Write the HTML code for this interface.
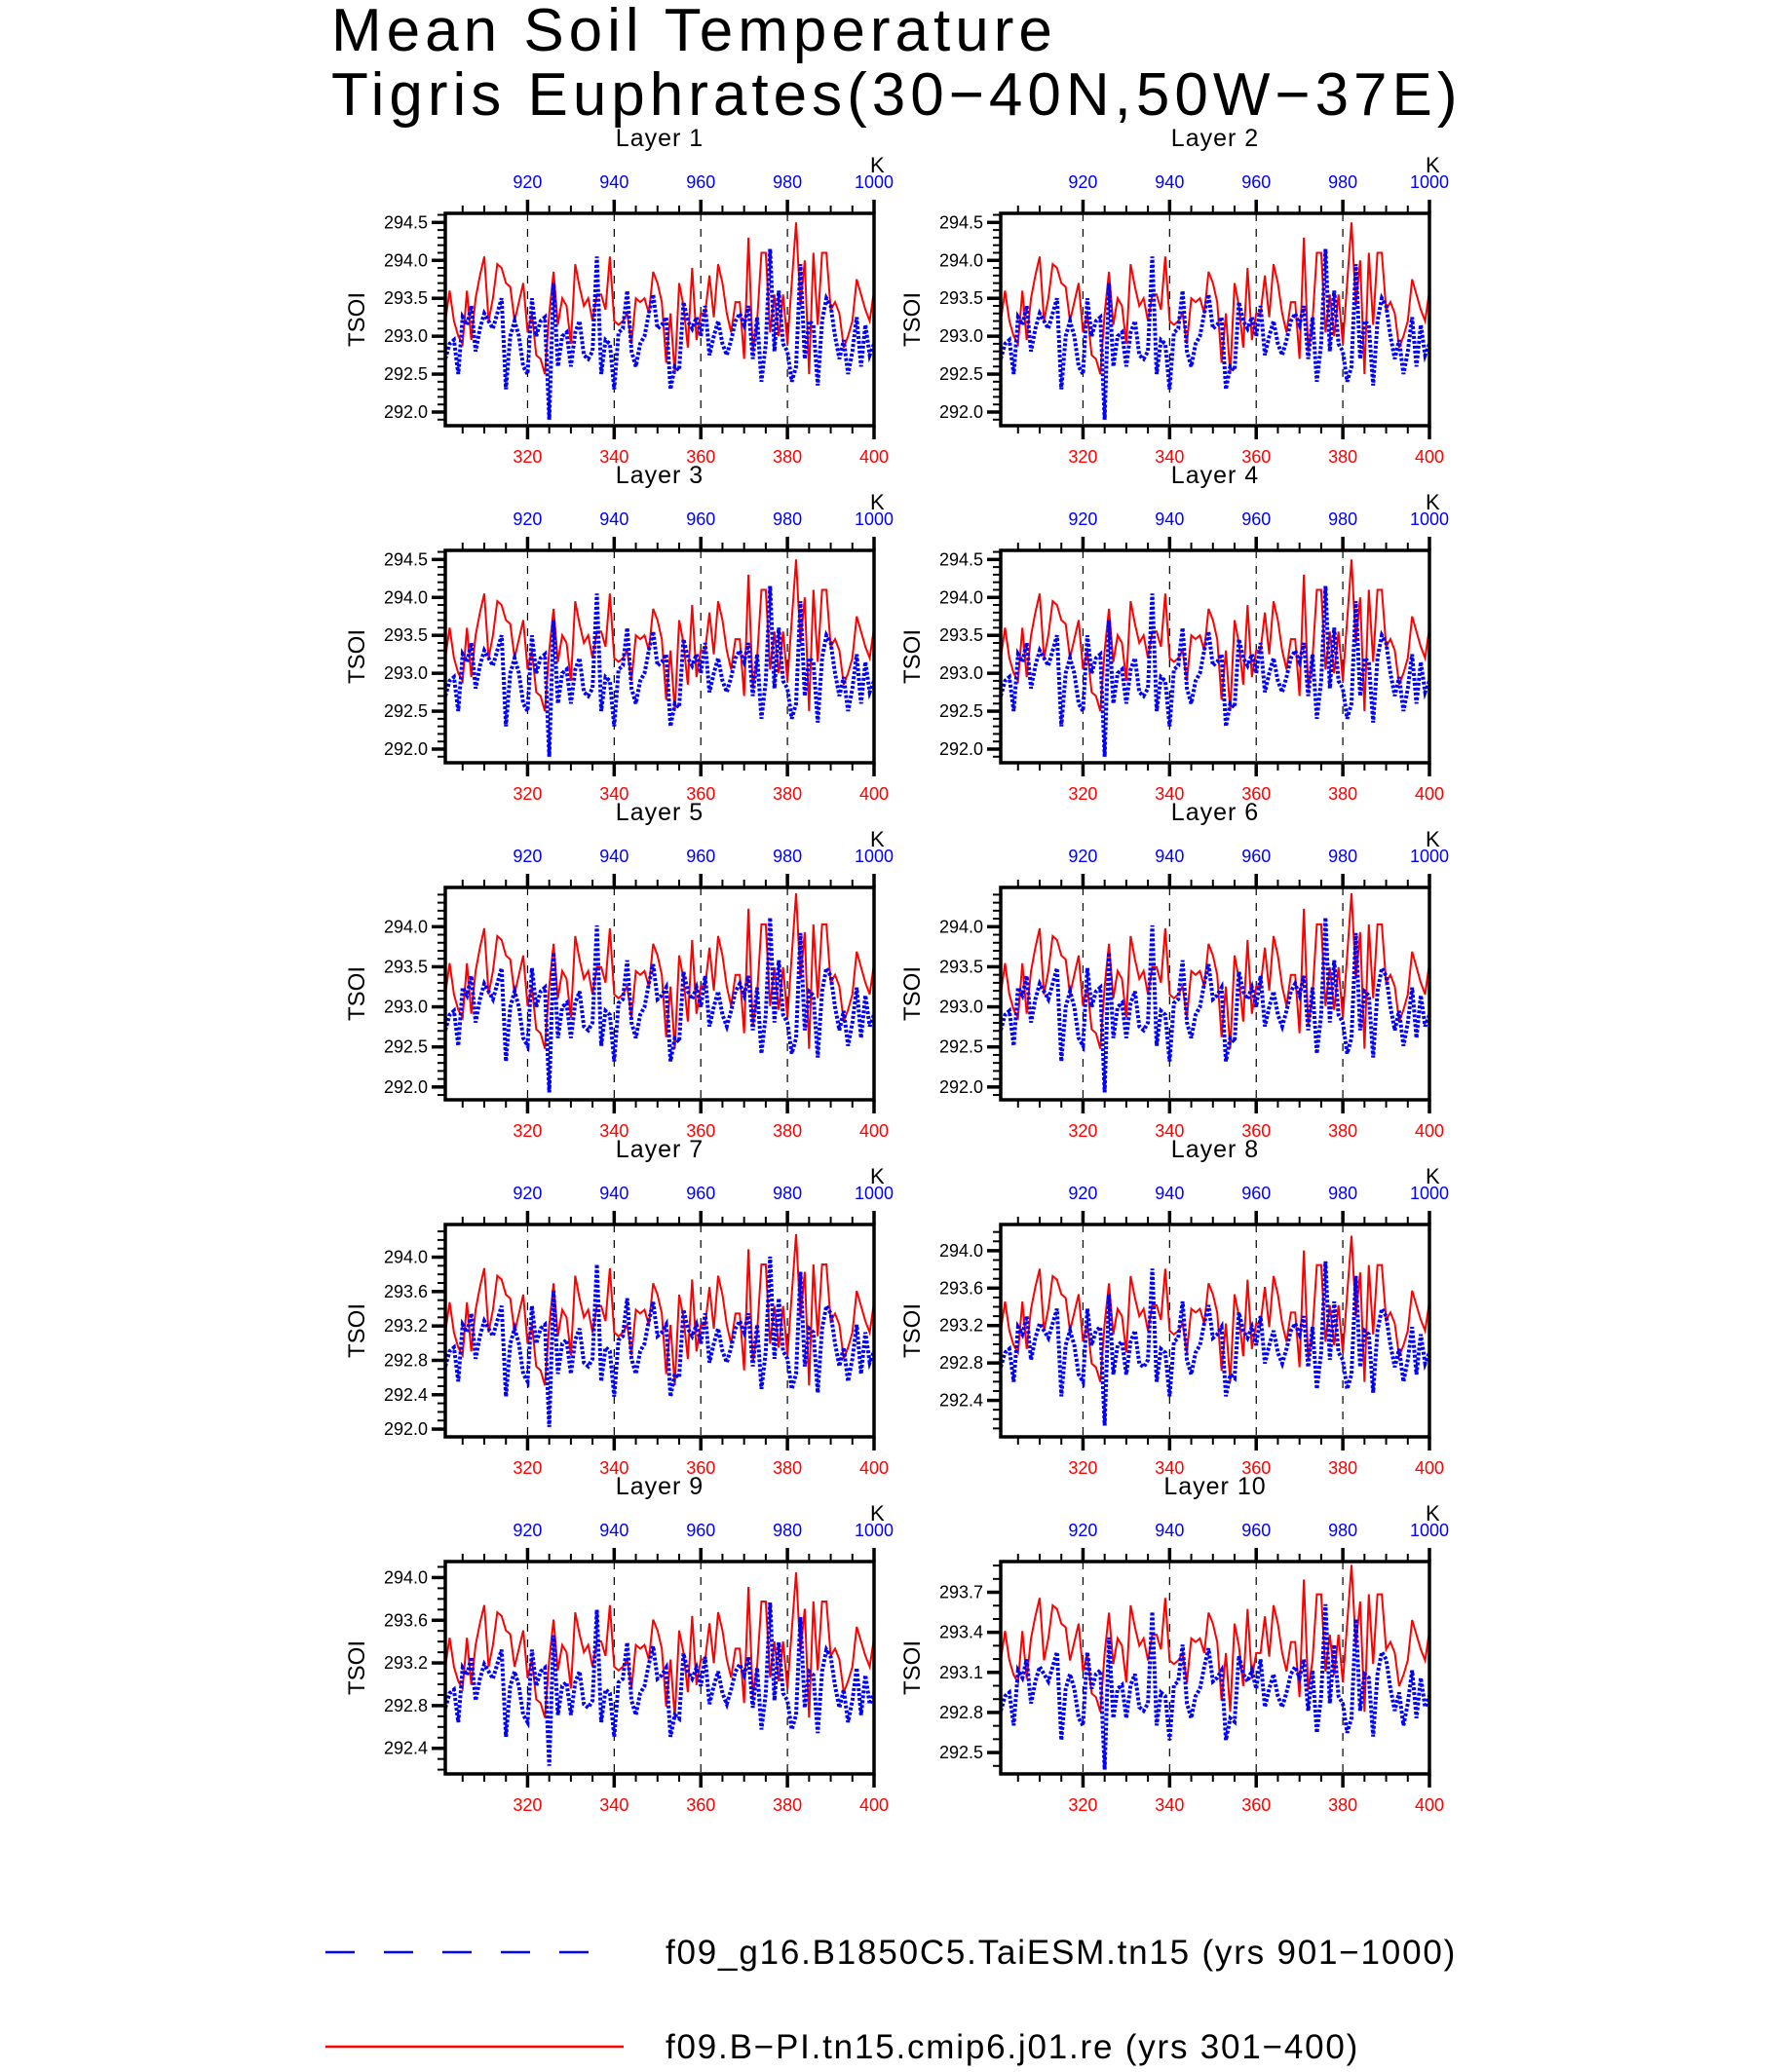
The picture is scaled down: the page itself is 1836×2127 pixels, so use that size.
<!DOCTYPE html>
<html><head><meta charset="utf-8"><style>
body{margin:0;background:#fff;}
svg text{font-family:"Liberation Sans",sans-serif;}
</style></head><body>
<svg id="chart" width="1836" height="2122" viewBox="0 0 1836 2122" xmlns="http://www.w3.org/2000/svg">
<text x="340" y="52" font-size="62" font-weight="300" fill="#000" letter-spacing="5">Mean Soil Temperature</text>
<text x="340" y="118" font-size="62" font-weight="300" fill="#000" letter-spacing="5">Tigris Euphrates(30−40N,50W−37E)</text>
<g id="panels"></g>
<line x1="334" y1="2004" x2="625" y2="2004" stroke="#0000ff" stroke-width="2.5" stroke-dasharray="30,30"/>
<text x="683" y="2016" font-size="35" fill="#000" letter-spacing="1.8">f09_g16.B1850C5.TaiESM.tn15 (yrs 901−1000)</text>
<line x1="334" y1="2101" x2="640" y2="2101" stroke="#ff0000" stroke-width="2.5"/>
<text x="683" y="2113" font-size="35" fill="#000" letter-spacing="1.8">f09.B−PI.tn15.cmip6.j01.re (yrs 301−400)</text>
</svg>
<script>
const redYears = []; for (let y = 301; y <= 400; y++) redYears.push(y);
const redValues = [293.2,293.6,293.2,293.0,292.9,293.6,292.95,293.5,293.8,294.05,293.2,293.5,293.95,293.9,293.7,293.65,293.2,293.45,293.7,293.05,
293.3,292.75,292.7,292.5,293.3,293.85,293.15,293.5,293.4,292.9,293.95,293.65,293.4,293.5,293.2,293.55,293.55,293.35,294.05,293.2,
293.15,293.2,293.3,292.9,293.5,293.45,293.5,293.3,293.85,293.7,293.45,292.65,293.3,292.5,293.7,293.4,292.85,293.9,292.95,293.3,
293.3,293.8,293.25,293.95,293.7,293.3,293.05,293.45,293.45,292.7,294.3,292.8,293.2,294.1,294.1,293.05,293.55,293.0,293.55,292.9,
293.7,294.5,293.4,294.0,292.5,294.1,293.15,294.1,294.1,293.35,293.45,293.3,292.85,293.0,293.2,293.75,293.55,293.35,293.2,293.6];
const blueValues = [292.7,292.9,292.95,292.5,293.25,293.15,293.4,292.8,293.1,293.3,293.2,293.1,293.3,293.5,292.3,293.0,293.2,293.0,292.6,292.5,
293.5,293.0,293.2,293.25,291.9,293.7,292.6,293.0,293.05,292.6,293.05,293.2,292.75,292.7,292.8,294.05,292.5,292.95,292.9,292.3,
293.05,293.1,293.6,292.8,292.6,292.9,293.0,293.3,293.55,293.1,293.15,293.25,292.3,292.6,292.55,293.45,293.2,293.1,293.25,293.0,
293.4,292.75,293.0,293.2,292.9,292.75,292.95,293.2,293.3,293.15,293.4,292.7,293.25,292.4,292.9,294.15,292.8,293.6,292.9,292.8,
292.4,292.6,293.95,292.7,293.2,293.15,292.35,293.2,293.5,293.4,293.0,292.7,292.95,292.5,292.8,293.25,292.6,293.15,292.75,292.9];
const layerNames = ["Layer  1","Layer  2","Layer  3","Layer  4","Layer  5","Layer  6","Layer  7","Layer  8","Layer  9","Layer  10"];
const layerAmplitude = [1,1,1,1,0.97,0.97,0.88,0.78,0.68,0.55];
const redLayerMean = [293.4,293.4,293.4,293.4,293.35,293.35,293.3,293.3,293.3,293.3];
const blueLayerMean = [292.95,292.95,292.95,292.95,292.95,292.95,292.95,292.95,292.95,292.95];
const yMin = [291.82,291.82,291.82,291.82,291.84,291.84,291.91,292.01,292.16,292.34];
const yMax = [294.62,294.62,294.62,294.62,294.49,294.49,294.38,294.28,294.15,293.93];
const yTicks = [
 [292.0,292.5,293.0,293.5,294.0,294.5],[292.0,292.5,293.0,293.5,294.0,294.5],
 [292.0,292.5,293.0,293.5,294.0,294.5],[292.0,292.5,293.0,293.5,294.0,294.5],
 [292.0,292.5,293.0,293.5,294.0],[292.0,292.5,293.0,293.5,294.0],
 [292.0,292.4,292.8,293.2,293.6,294.0],[292.4,292.8,293.2,293.6,294.0],
 [292.4,292.8,293.2,293.6,294.0],[292.5,292.8,293.1,293.4,293.7]];
const bottomTicks = [320,340,360,380,400];
const topTicks = [920,940,960,980,1000];

const NS = "http://www.w3.org/2000/svg";
const root = document.getElementById("panels");
function mk(tag, attrs, parent){ const e=document.createElementNS(NS,tag); for(const k in attrs) e.setAttribute(k,attrs[k]); parent.appendChild(e); return e; }
const W = 440, H = 218, colX = [457, 1027], rowY = [219, 565, 911, 1257, 1603];
const RED_BASE = 293.4, BLUE_BASE = 292.95;
for (let i = 0; i < 10; i++) {
  const L = colX[i % 2], T = rowY[Math.floor(i / 2)], R = L + W, B = T + H;
  const sx = v => L + (v - 301) / 99 * W;
  const sy = v => B - (v - yMin[i]) / (yMax[i] - yMin[i]) * H;
  const redL = redValues.map(v => redLayerMean[i] + (v - RED_BASE) * layerAmplitude[i]);
  const blueL = blueValues.map(v => blueLayerMean[i] + (v - BLUE_BASE) * layerAmplitude[i]);
  const g = mk("g", {}, root);
  
  
  const t = mk("text", {x: L + W / 2, y: T - 69, "text-anchor": "middle", "font-size": 25, fill: "#000", "letter-spacing": 1}, g);
  
  
  t.textContent = layerNames[i];
  bottomTicks.slice(0, 4).forEach(v => {
    const l = mk("line", {x1: sx(v), x2: sx(v), y1: T, y2: B, stroke: "#000", "stroke-width": 1.2, "stroke-dasharray": "8,8"}, g);
    
    
  });
  for (let v = 305; v < 400; v += 5) {
    mk("line", {x1: sx(v), x2: sx(v), y1: T, y2: T - 8, stroke: "#000", "stroke-width": 2}, g);
    mk("line", {x1: sx(v), x2: sx(v), y1: B, y2: B + 8, stroke: "#000", "stroke-width": 2}, g);
  }
  bottomTicks.forEach((v, k) => {
    mk("line", {x1: sx(v), x2: sx(v), y1: T, y2: T - 14, stroke: "#000", "stroke-width": 3.5}, g);
    mk("line", {x1: sx(v), x2: sx(v), y1: B, y2: B + 14, stroke: "#000", "stroke-width": 3.5}, g);
    const bl = mk("text", {x: sx(v), y: B + 38, "text-anchor": "middle", "font-size": 18, fill: "#ff0000"}, g);
    
    
    bl.textContent = v;
    const tl = mk("text", {x: sx(v), y: T - 26, "text-anchor": "middle", "font-size": 18, fill: "#0000ff"}, g);
    
    
    tl.textContent = topTicks[k];
  });
  const kl = mk("text", {x: R - 4, y: T - 42, "font-size": 22, fill: "#000"}, g);
  
  
  kl.textContent = "K";
  for (let v = Math.ceil(yMin[i] * 10) / 10; v <= yMax[i]; v += 0.1) {
    mk("line", {x1: L, x2: L - 8, y1: sy(v), y2: sy(v), stroke: "#000", "stroke-width": 2}, g);
  }
  yTicks[i].forEach(v => {
    mk("line", {x1: L, x2: L - 14, y1: sy(v), y2: sy(v), stroke: "#000", "stroke-width": 3.5}, g);
    const yl = mk("text", {x: L - 18, y: sy(v) + 6, "text-anchor": "end", "font-size": 18, fill: "#000"}, g);
    
    
    yl.textContent = v.toFixed(1);
  });
  const ya = mk("text", {x: 0, y: 0, "text-anchor": "middle", "font-size": 24, fill: "#000", transform: `translate(${L - 83},${T + H / 2}) rotate(-90)`}, g);
  
  
  ya.textContent = "TSOI";
  const clipId = "c" + i;
  const cp = mk("clipPath", {id: clipId}, g);
  mk("rect", {x: L, y: T, width: W, height: H}, cp);
  const rp = mk("polyline", {points: redL.map((v, k) => sx(redYears[k]) + "," + sy(v)).join(" "), fill: "none", stroke: "#ff0000", "stroke-width": 2, "clip-path": `url(#${clipId})`}, g);
  
  
  const bp = mk("polyline", {points: blueL.map((v, k) => sx(redYears[k]) + "," + sy(v)).join(" "), fill: "none", stroke: "#0000ff", "stroke-width": 4, "stroke-dasharray": "3,2", "clip-path": `url(#${clipId})`}, g);
  
  
  const fr = mk("rect", {x: L, y: T, width: W, height: H, fill: "none", stroke: "#000", "stroke-width": 3.5}, g);
  
  
}
</script>
</body></html>
